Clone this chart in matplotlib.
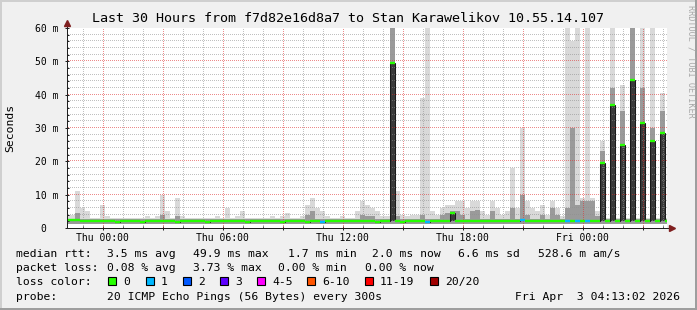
import numpy as np
import matplotlib
matplotlib.use('Agg')
import matplotlib.pyplot as plt
from matplotlib.patches import Rectangle

# --- data (15 min bins, ms) ---
median = [
    2.3, 2.5, 2.2, 2.1, 2.0, 2.1, 2.0, 2.1, 2.0, 1.9,
    2.0, 2.0, 2.1, 2.0, 1.9, 2.0, 2.1, 2.0, 2.0, 2.1,
    2.0, 1.9, 2.0, 2.0, 2.1, 2.0, 2.0, 1.9, 2.0, 2.1,
    2.0, 2.1, 2.0, 2.0, 2.0, 1.9, 2.0, 2.0, 2.1, 2.0,
    2.0, 2.0, 1.9, 2.0, 2.0, 2.1, 2.0, 1.9, 2.0, 2.0,
    1.8, 2.0, 2.1, 2.0, 2.0, 2.0, 2.1, 2.0, 2.0, 2.0,
    2.0, 1.9, 2.0, 2.0, 49.5, 2.0, 1.9, 2.0, 2.0, 2.1,
    2.0, 1.9, 2.1, 2.0, 2.0, 2.1, 4.5, 2.0, 2.1, 2.0,
    2.2, 2.1, 2.2, 2.1, 2.2, 2.1, 2.2, 2.2, 2.1, 2.2,
    2.3, 2.2, 2.1, 2.2, 2.2, 2.0, 2.1, 2.0, 2.0, 2.0,
    2.1, 2.0, 2.2, 2.1, 2.2, 2.2, 19.5, 2.0, 37.0, 2.0,
    25.0, 2.0, 44.5, 2.0, 31.5, 2.0, 26.0, 2.0, 28.5, 2.0,
]
smoke_top = [
    4, 11, 6, 5, 3, 3, 7, 3.5, 3, 3,
    3, 3, 3, 3, 3, 3.5, 3, 3.5, 10, 5,
    3, 9, 3.5, 3, 3, 3, 3, 3, 3, 3.5,
    3, 6, 3, 3.5, 5, 3, 3, 3, 3, 3,
    3.5, 3, 3.5, 4.5, 3, 3, 3.5, 7, 9, 6,
    5, 3.5, 3, 3, 3.5, 3, 3, 5, 8, 7,
    6, 5, 3.5, 3.5, 70, 11, 4, 3.5, 4, 4,
    39, 70, 5, 4, 6, 7, 7, 8, 8, 6,
    8, 8, 5, 4, 8, 6, 4, 5, 18, 6,
    30, 8, 6, 5, 7, 4, 8, 6, 3.5, 70,
    56, 70, 9, 70, 9, 5, 26, 3, 70, 3,
    43, 3, 70, 3, 70, 3, 70, 3, 40.5, 3,
]
mid_top = [
    2.6, 4.5, 2.6, 2.6, 2.6, 2.6, 2.6, 2.6, 2.6, 2.6,
    2.6, 2.6, 2.6, 2.6, 2.6, 2.6, 2.6, 2.6, 4.0, 2.6,
    2.6, 3.5, 2.6, 2.6, 2.6, 2.6, 2.6, 2.6, 2.6, 2.6,
    2.6, 2.6, 2.6, 2.6, 2.6, 2.6, 2.6, 2.6, 2.6, 2.6,
    2.6, 2.6, 2.6, 2.6, 2.6, 2.6, 2.6, 4.0, 5.0, 2.6,
    2.6, 2.6, 2.6, 2.6, 2.6, 2.6, 2.6, 2.6, 4.0, 3.5,
    3.5, 2.6, 2.6, 2.6, 70, 3.5, 2.6, 2.6, 2.6, 2.6,
    4.0, 2.6, 2.6, 2.6, 4.0, 4.5, 5.0, 5.0, 4.0, 2.6,
    5.0, 5.5, 2.6, 2.6, 5.0, 2.6, 2.6, 2.6, 6.0, 2.6,
    10, 4.0, 2.6, 2.6, 4.0, 2.6, 6.0, 4.0, 2.6, 6.0,
    30, 7.0, 8.0, 8.0, 8.0, 3.5, 23, 2.6, 42, 2.6,
    35, 2.6, 70, 2.6, 42, 2.6, 30, 2.6, 35, 2.6,
]
loss = [0] * 120
for k in [50, 71, 90, 99, 101, 103]:
    loss[k] = 1
smoke_floor = 1.2

loss_labels = ['0', '1', '2', '3', '4-5', '6-10', '11-19', '20/20']
loss_colors = ['#26ff00', '#00b8ff', '#0059ff', '#5e00ff', '#ff00ff', '#ff5500', '#ff0000', '#a00000']

ytick_vals = [0, 10, 20, 30, 40, 50, 60]
ytick_labels = ['0  ', '10 m', '20 m', '30 m', '40 m', '50 m', '60 m']
xtick_hours = [0, 6, 12, 18, 24]
xtick_labels = ['Thu 00:00', 'Thu 06:00', 'Thu 12:00', 'Thu 18:00', 'Fri 00:00']

rtt_stats = ['3.5 ms avg', '49.9 ms max', '1.7 ms min', '2.0 ms now', '6.6 ms sd', '528.6 m am/s']
loss_stats = ['0.08 % avg', '3.73 % max', '0.00 % min', '0.00 % now']

title = 'Last 30 Hours from f7d82e16d8a7 to Stan Karawelikov 10.55.14.107'

# --- figure ---
W, H = 697, 310
mono = 'DejaVu Sans Mono'
fig = plt.figure(figsize=(W / 100, H / 100), dpi=100, facecolor='#f0f0f0')

def fx(x):
    return x / W

def fy(y):
    return 1 - y / H

# 3d frame
for (x, y, w, h, c) in [(0, 0, W, 2, '#cfcfcf'), (0, 0, 2, H, '#cfcfcf'),
                        (0, H - 2, W, 2, '#9e9e9e'), (W - 2, 0, 2, H, '#9e9e9e')]:
    fig.add_artist(Rectangle((fx(x), fy(y + h)), w / W, h / H, color=c, lw=0,
                             transform=fig.transFigure))

ax = fig.add_axes([fx(67), fy(228), 600 / W, 200 / H])
ax.set_facecolor('white')
xmin, xmax = -1.78, 28.22
ymax = 60
ax.set_xlim(xmin, xmax)
ax.set_ylim(0, ymax)

edges = -1.635 + 0.25 * np.arange(len(median) + 1)
edges[0] = xmin
med = np.array(median)

ax.stairs(smoke_top, edges, baseline=smoke_floor, fill=True, color='#d9d9d9', lw=0, zorder=1)
ax.stairs(mid_top, edges, baseline=smoke_floor, fill=True, color='#9a9a9a', lw=0, zorder=1.1)
ax.stairs(med, edges, baseline=np.minimum(med, 2.0), fill=True, color='#3a3a3a', lw=0, zorder=1.2)
ax.stairs(med, edges, baseline=None, color='#1a1a1a', lw=0.75, zorder=3)
ax.hlines(med, edges[:-1], edges[1:], colors=[loss_colors[l] for l in loss],
          lw=1.7, zorder=4, capstyle='butt')

# dotted grid drawn as single pixels (1 on / 1 off), semi-transparent like rrdtool
px_x = (xmax - xmin) / 600
px_y = ymax / 200
ys_dots = np.arange(0, ymax, 2 * px_y) + 0.5 * px_y
xs_dots = np.arange(xmin, xmax, 2 * px_x) + 0.5 * px_x

def dotted(xv, yv, color):
    gx, gy = [], []
    for x in xv:
        gx.append(np.full_like(ys_dots, x))
        gy.append(ys_dots)
    for y in yv:
        gx.append(xs_dots)
        gy.append(np.full_like(xs_dots, y))
    ax.plot(np.concatenate(gx), np.concatenate(gy), ls='none', marker=',',
            color=color, zorder=2.5)

hours = np.arange(-1, 29)
dotted([h for h in hours if h % 3 != 0], [v for v in range(2, 60, 2) if v % 10 != 0],
       (0.56, 0.56, 0.56, 0.56))
dotted([h for h in hours if h % 3 == 0], [v for v in range(10, 61, 10)],
       (0.87, 0.19, 0.19, 0.56))

# ticks
ax.set_yticks(ytick_vals)
ax.set_yticklabels(ytick_labels, family=mono, fontsize=7)
ax.set_yticks(np.arange(0, 61, 2), minor=True)
ax.set_xticks(np.arange(0, 28, 3))
ax.set_xticklabels([xtick_labels[xtick_hours.index(h)] if h in xtick_hours else ''
                    for h in range(0, 28, 3)], family=mono, fontsize=7)
ax.set_xticks(np.arange(-1, 29, 1), minor=True)
ax.tick_params(which='major', direction='inout', length=3, width=0.72, color='#1f1f1f')
ax.tick_params(which='minor', direction='in', length=1.5, width=0.72, color='#1f1f1f')
ax.tick_params(axis='y', which='major', pad=4.3)
ax.tick_params(axis='x', which='major', pad=2.2)
for s in ['top', 'right']:
    ax.spines[s].set_visible(False)
for s in ['left', 'bottom']:
    ax.spines[s].set_color('#1f1f1f')
    ax.spines[s].set_linewidth(0.72)
    ax.spines[s].set_zorder(5)

# axis arrows
ax.plot([0, 0], [1, 1.02], transform=ax.transAxes, color='#1f1f1f', lw=0.72, clip_on=False)
ax.plot([0], [1.025], transform=ax.transAxes, marker='^', ms=4.5, color='#7f1f1f', clip_on=False)
ax.plot([1, 1.006], [0, 0], transform=ax.transAxes, color='#1f1f1f', lw=0.72, clip_on=False)
ax.plot([1.009], [0], transform=ax.transAxes, marker='>', ms=4.5, color='#7f1f1f', clip_on=False)

# texts
fig.text(fx(348), fy(19), title, family=mono, fontsize=9.6, ha='center', va='center')
fig.text(fx(10.5), fy(128), 'Seconds', family=mono, fontsize=8.2, rotation=90,
         ha='center', va='center')
fig.text(fx(690.5), fy(5), 'RRDTOOL / TOBI OETIKER', family=mono, fontsize=6.1,
         rotation=270, ha='center', va='top', color='#a8a8a8')

fs = 8.2
row_y = [254, 268, 282, 296.5]
fig.text(fx(16), fy(row_y[0]), 'median rtt:', family=mono, fontsize=fs, va='center')
for s, x in zip(rtt_stats, [107, 193, 288, 372.5, 458, 537.5]):
    fig.text(fx(x), fy(row_y[0]), s, family=mono, fontsize=fs, va='center')
fig.text(fx(16), fy(row_y[1]), 'packet loss:', family=mono, fontsize=fs, va='center')
for s, x in zip(loss_stats, [107, 193, 278, 365]):
    fig.text(fx(x), fy(row_y[1]), s, family=mono, fontsize=fs, va='center')
fig.text(fx(16), fy(row_y[2]), 'loss color:', family=mono, fontsize=fs, va='center')
for lab, col, bx in zip(loss_labels, loss_colors, [108, 146, 183, 220, 257, 307, 365, 430]):
    fig.add_artist(Rectangle((fx(bx), fy(285)), 8 / W, 8 / H, facecolor=col,
                             edgecolor='black', lw=0.8, transform=fig.transFigure))
    fig.text(fx(bx + 15), fy(row_y[2]), lab, family=mono, fontsize=fs, va='center')
fig.text(fx(16), fy(row_y[3]), 'probe:', family=mono, fontsize=fs, va='center')
fig.text(fx(107), fy(row_y[3]), '20 ICMP Echo Pings (56 Bytes) every 300s',
         family=mono, fontsize=fs, va='center')
fig.text(fx(680), fy(row_y[3]), 'Fri Apr  3 04:13:02 2026', family=mono,
         fontsize=fs, va='center', ha='right')

fig.savefig('out.png', dpi=100, facecolor=fig.get_facecolor())
